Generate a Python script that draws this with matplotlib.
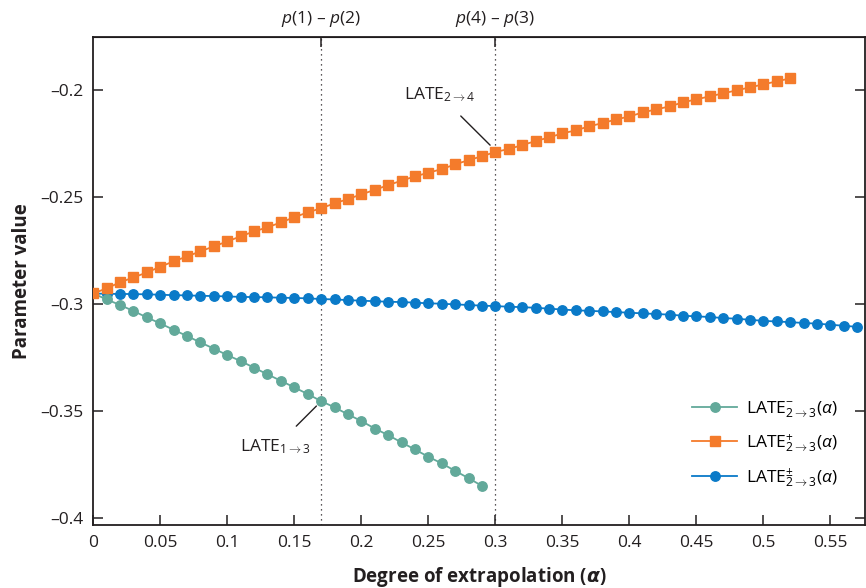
import numpy as np
import matplotlib
matplotlib.use("Agg")
import matplotlib.pyplot as plt
from matplotlib.ticker import FuncFormatter

plt.rcParams['font.family'] = ['Open Sans', 'DejaVu Sans']
plt.rcParams['mathtext.fontset'] = 'custom'
plt.rcParams['mathtext.rm'] = 'Open Sans'
plt.rcParams['mathtext.it'] = 'Open Sans:italic'
plt.rcParams['mathtext.bf'] = 'Open Sans:bold'

# degree of extrapolation grid (steps of 0.01)
alpha_grid = np.round(np.arange(58) * 0.01, 2)

# LATE^-_{2->3}(a), alpha = 0 .. 0.29
late_minus = [-0.2949, -0.2977, -0.3003, -0.3031, -0.3061, -0.3089, -0.3119, -0.3148,
              -0.3178, -0.3207, -0.3237, -0.3265, -0.3296, -0.3327, -0.3357, -0.3388,
              -0.3419, -0.3452, -0.3481, -0.3514, -0.3545, -0.3580, -0.3611, -0.3645,
              -0.3678, -0.3712, -0.3743, -0.3778, -0.3812, -0.3848]

# LATE^+_{2->3}(a), alpha = 0 .. 0.52
late_plus = [-0.2949, -0.2925, -0.2897, -0.2874, -0.2851, -0.2824, -0.2799, -0.2776,
             -0.2752, -0.2729, -0.2706, -0.2682, -0.2659, -0.2640, -0.2617, -0.2593,
             -0.2570, -0.2551, -0.2528, -0.2508, -0.2486, -0.2465, -0.2443, -0.2422,
             -0.2402, -0.2385, -0.2368, -0.2346, -0.2326, -0.2308, -0.2288, -0.2274,
             -0.2256, -0.2237, -0.2220, -0.2201, -0.2187, -0.2168, -0.2153, -0.2136,
             -0.2122, -0.2103, -0.2089, -0.2075, -0.2056, -0.2042, -0.2028, -0.2014,
             -0.2000, -0.1986, -0.1972, -0.1958, -0.1944]

# LATE^+-_{2->3}(a), alpha = 0 .. 0.57
late_pm = [-0.2949, -0.2951, -0.2951, -0.2952, -0.2953, -0.2955, -0.2957, -0.2958,
           -0.2960, -0.2961, -0.2963, -0.2965, -0.2966, -0.2967, -0.2969, -0.2970,
           -0.2972, -0.2975, -0.2977, -0.2980, -0.2983, -0.2985, -0.2988, -0.2989,
           -0.2992, -0.2995, -0.2997, -0.3000, -0.3003, -0.3006, -0.3008, -0.3011,
           -0.3013, -0.3016, -0.3020, -0.3024, -0.3028, -0.3030, -0.3033, -0.3036,
           -0.3039, -0.3042, -0.3045, -0.3048, -0.3053, -0.3056, -0.3059, -0.3064,
           -0.3067, -0.3072, -0.3077, -0.3080, -0.3083, -0.3087, -0.3090, -0.3095,
           -0.3100, -0.3105]

# reference points on the top axis
ref_x = [0.17, 0.3]
ref_labels = [r"$p$(1) – $p$(2)", r"$p$(4) – $p$(3)"]

x_ticks = [0, 0.05, 0.1, 0.15, 0.2, 0.25, 0.3, 0.35, 0.4, 0.45, 0.5, 0.55]
y_ticks = [-0.4, -0.35, -0.3, -0.25, -0.2]

green = '#62a99a'
orange = '#f47b2b'
blue = '#0a7ac8'
ink = '#231f20'

fig = plt.figure(figsize=(8.66, 5.88), dpi=100)
ax = fig.add_axes([0.1077, 0.1071, 0.8911, 0.8295])

ax.plot(alpha_grid[:len(late_pm)], late_pm, '-o', color=blue, lw=1.3, ms=6.8,
        label=r"LATE$^{\pm}_{2\rightarrow3}$($\alpha$)", zorder=3)
ax.plot(alpha_grid[:len(late_minus)], late_minus, '-o', color=green, lw=1.3, ms=6.8,
        label=r"LATE$^{-}_{2\rightarrow3}$($\alpha$)", zorder=4)
ax.plot(alpha_grid[:len(late_plus)], late_plus, '-s', color=orange, lw=1.3, ms=6.8,
        label=r"LATE$^{+}_{2\rightarrow3}$($\alpha$)", zorder=5)

for xv in ref_x:
    ax.axvline(xv, color=ink, lw=0.9, ls=(0, (1, 3)), zorder=1)

ax.set_xlim(0, 0.5758)
ax.set_ylim(-0.4031, -0.1752)
ax.set_xticks(x_ticks)
ax.set_yticks(y_ticks)
fmt = FuncFormatter(lambda v, p: ('%g' % v).replace('-', '\u2013'))
ax.xaxis.set_major_formatter(fmt)
ax.yaxis.set_major_formatter(fmt)
ax.tick_params(direction='in', length=7, width=1.1, color=ink, labelsize=12.5,
               labelcolor=ink, right=True, pad=7)

for s in ax.spines.values():
    s.set_linewidth(1.3)
    s.set_color(ink)

top = ax.secondary_xaxis('top')
top.set_xticks(ref_x)
top.set_xticklabels(ref_labels)
top.tick_params(direction='in', length=7, width=1.1, color=ink, labelsize=12.5,
                labelcolor=ink, pad=6)

ax.set_xlabel(r"Degree of extrapolation ($\boldsymbol{\alpha}$)", fontsize=13.5,
              fontweight='bold', color=ink, labelpad=10)
ax.set_ylabel("Parameter value", fontsize=13.5, fontweight='bold', color=ink, labelpad=6)

ax.annotate(r"LATE$_{2\rightarrow4}$", xy=(0.2961, -0.2256), xytext=(0.2585, -0.2022),
            ha='center', va='center', fontsize=12.5, color=ink,
            arrowprops=dict(arrowstyle='-', color=ink, lw=1.0, shrinkA=9, shrinkB=0))
ax.annotate(r"LATE$_{1\rightarrow3}$", xy=(0.1665, -0.3475), xytext=(0.1358, -0.3667),
            ha='center', va='center', fontsize=12.5, color=ink,
            arrowprops=dict(arrowstyle='-', color=ink, lw=1.0, shrinkA=9, shrinkB=0))

h, l = ax.get_legend_handles_labels()
order = [1, 2, 0]
ax.legend([h[i] for i in order], [l[i] for i in order], loc='lower right',
          bbox_to_anchor=(0.985, 0.04), frameon=False, fontsize=12.5,
          handlelength=2.6, labelspacing=0.7, handletextpad=0.5)

fig.savefig('out.png', dpi=100)
